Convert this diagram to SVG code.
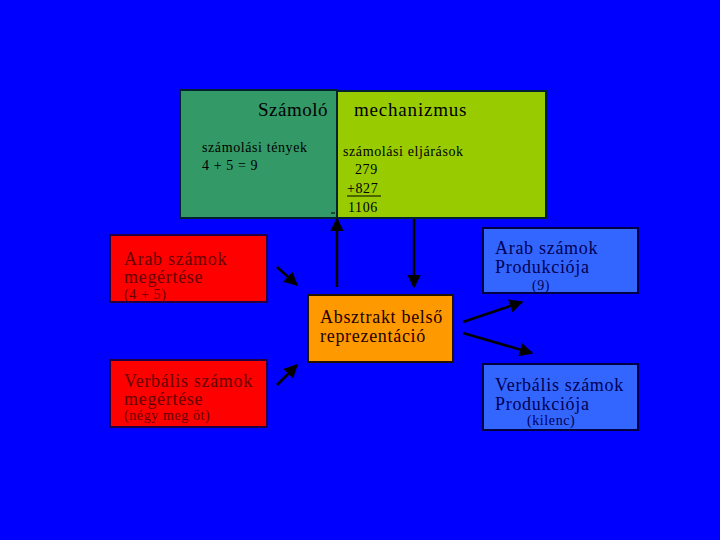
<svg xmlns="http://www.w3.org/2000/svg" width="720" height="540" viewBox="0 0 720 540">
<style>
text{font-family:"Liberation Serif","Times New Roman",serif;}
.big{font-size:18px;letter-spacing:0.7px;}
.sm{font-size:14px;letter-spacing:0.6px;}
.red rect{fill:#FF0000;stroke:#220044;stroke-width:2;}
.red text{fill:#660000;}
.blu rect{fill:#3366FF;stroke:#000044;stroke-width:2;}
.blu text{fill:#000055;}
.conn line{stroke:#000000;stroke-width:2.5;}
</style>
<defs>
<marker id="ah" viewBox="0 0 10 10" refX="9" refY="5" markerWidth="5.5" markerHeight="5.5" orient="auto" markerUnits="strokeWidth">
<path d="M0,0 L10,5 L0,10 z" fill="#000"/>
</marker>
</defs>
<rect width="720" height="540" fill="#0000FF"/>
<g id="mechanism">
<rect x="180" y="90" width="157" height="128" fill="#339966" stroke="#002233" stroke-width="2"/>
<rect x="337" y="91" width="209" height="127" fill="#99CC00" stroke="#002233" stroke-width="2"/>
<text x="258" y="116" style="font-size:19px;letter-spacing:0.5px" fill="#000">Számoló</text>
<text x="354" y="116" style="font-size:19px;letter-spacing:0.8px" fill="#000">mechanizmus</text>
<text x="202" y="152" class="sm" fill="#000">számolási tények</text>
<text x="202" y="170" class="sm" fill="#000">4 + 5 = 9</text>
<text x="343" y="156" class="sm" fill="#000">számolási eljárások</text>
<text x="355" y="174" class="sm" fill="#000">279</text>
<text x="347" y="193" class="sm" fill="#000">+827</text>
<line x1="347" y1="196" x2="381" y2="196" stroke="#000" stroke-width="1"/>
<text x="348" y="212" class="sm" fill="#000">1106</text>
<line x1="331" y1="213" x2="335" y2="213" stroke="#000" stroke-width="1"/>
</g>
<g id="arab-comp" class="red">
<rect x="110" y="235" width="157" height="67"/>
<text x="124" y="265" class="big">Arab számok</text>
<text x="124" y="283" class="big">megértése</text>
<text x="124" y="299" class="sm">(4 + 5)</text>
</g>
<g id="verb-comp" class="red">
<rect x="110" y="360" width="157" height="67"/>
<text x="124" y="387" class="big">Verbális számok</text>
<text x="124" y="405" class="big">megértése</text>
<text x="124" y="420" class="sm">(négy meg öt)</text>
</g>
<g id="abstract">
<rect x="308" y="295" width="145" height="67" fill="#FF9900" stroke="#221100" stroke-width="2"/>
<text x="320" y="323" class="big" fill="#220000">Absztrakt belső</text>
<text x="320" y="342" class="big" fill="#220000">reprezentáció</text>
</g>
<g id="arab-prod" class="blu">
<rect x="483" y="228" width="155" height="65"/>
<text x="495" y="254" class="big">Arab számok</text>
<text x="495" y="273" class="big">Produkciója</text>
<text x="532" y="290" class="sm">(9)</text>
</g>
<g id="verb-prod" class="blu">
<rect x="483" y="364" width="155" height="66"/>
<text x="495" y="391" class="big">Verbális számok</text>
<text x="495" y="410" class="big">Produkciója</text>
<text x="527" y="425" class="sm">(kilenc)</text>
</g>
<g id="connectors" class="conn">
<line x1="337" y1="287" x2="337" y2="219" marker-end="url(#ah)"/>
<line x1="414" y1="219" x2="414" y2="287" marker-end="url(#ah)"/>
<line x1="277" y1="267" x2="297" y2="285" marker-end="url(#ah)"/>
<line x1="277" y1="385" x2="297" y2="365" marker-end="url(#ah)"/>
<line x1="463" y1="322" x2="522" y2="302" marker-end="url(#ah)"/>
<line x1="463" y1="333" x2="532" y2="353" marker-end="url(#ah)"/>
</g>
</svg>
